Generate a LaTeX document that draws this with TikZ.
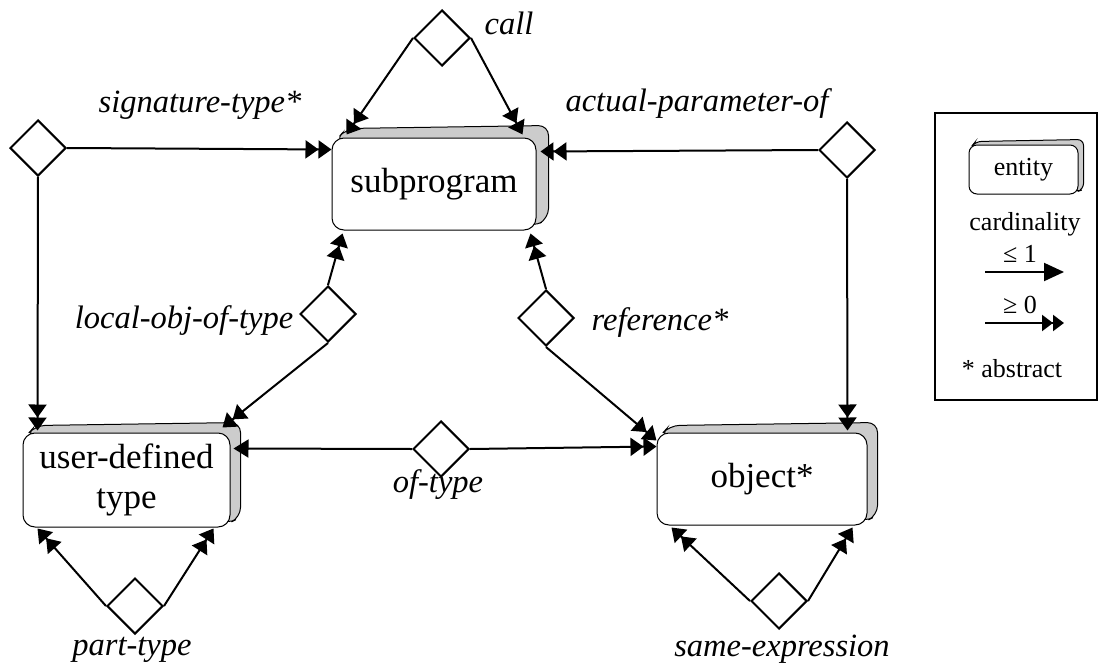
\documentclass[tikz,border=0pt]{standalone}
\usepackage{fontspec}
\setmainfont{Liberation Serif}
\usetikzlibrary{arrows.meta,shapes.geometric,backgrounds}
\newcommand\lblfont{\fontsize{32.5}{38}\selectfont\itshape}
\newcommand\entfont{\fontsize{35}{40}\selectfont}
\newcommand\legfont{\fontsize{26}{30}\selectfont}
\tikzset{
  ent/.style={draw, line width=1pt, rounded corners=12pt, fill=white, inner sep=0pt, align=center, font=\entfont},
  slab/.style={draw, line width=1pt, fill=black!20, rounded corners=10pt},
  rel/.style={draw, diamond, aspect=1, line width=2pt, minimum width=56pt, minimum height=56pt, inner sep=0pt, fill=white},
  lbl/.style={font=\lblfont, anchor=base, inner sep=0pt},
  leg/.style={font=\legfont, anchor=base, inner sep=0pt},
  conn/.style={line width=2pt},
  one/.style={conn, -{Triangle[length=15pt,width=18pt]}},
  many/.style={conn, -{Triangle[length=13pt,width=18pt]Triangle[length=13pt,width=18pt]}},
}
\begin{document}
\begin{tikzpicture}[x=1pt,y=-1pt]
\useasboundingbox (0,0) rectangle (1102,666);
% entities
\node[ent, minimum width=204pt, minimum height=92pt] (sub) at (434,184) {subprogram};
\node[ent, minimum width=207pt, minimum height=94pt] (udt) at (126.5,480) {user-defined\\type};
\node[ent, minimum width=210pt, minimum height=92pt] (obj) at (762,479) {object*};
% shadows
\begin{pgfonlayer}{background}
\foreach \n/\d in {sub/12, udt/10, obj/10} {
  \path[slab] ([shift={(3.5,3.5)}]\n.north west) -- ([shift={(\d+3,-\d+3)}]\n.north west)
     -- ([shift={(\d,-\d)}]\n.north east)
     -- ([shift={(\d,-\d)}]\n.south east) -- ([shift={(-3.5,-3.5)}]\n.south east) -- cycle;
}
\end{pgfonlayer}
% relationships
\node[rel] (call) at (442,38) {};
\node[rel] (sig) at (38,148) {};
\node[rel] (act) at (847,150) {};
\node[rel] (loc) at (328,314) {};
\node[rel] (ref) at (546,318) {};
\node[rel] (oft) at (441,449) {};
\node[rel] (part) at (135,606) {};
\node[rel] (same) at (779,601) {};
% labels
\node[lbl] (lcall) at (509,35) {call};
\node[lbl] (lsig) at (200,113) {signature-type*};
\node[lbl] (lact) at (697,112) {actual-parameter-of};
\node[lbl] (lloc) at (184,328) {local-obj-of-type};
\node[lbl] (lref) at (660,330) {reference*};
\node[lbl] (loft) at (438,492) {of-type};
\node[lbl] (lpart) at (132,655) {part-type};
\node[lbl] (lsame) at (782,656) {same-expression};
% connectors
\draw[many] (call.west) -- ([shift={(15,-3)}]sub.north west);
\draw[many] (call.east) -- ([shift={(-14,-3)}]sub.north east);
\draw[many] (sig.east) -- ([shift={(0,12)}]sub.north west);
\draw[many] (sig.south) -- ([shift={(15,-2)}]udt.north west);
\draw[many] (act.west) -- ([shift={(4,14)}]sub.north east);
\draw[many] (act.south) -- ([shift={(-20,-2)}]obj.north east);
\draw[many] (loc.north) -- ([shift={(11,3)}]sub.south west);
\draw[many] (loc.south) -- ([shift={(-8,-5)}]udt.north east);
\draw[many] (ref.north) -- ([shift={(-6,3)}]sub.south east);
\draw[many] (ref.south) -- ([shift={(0,8)}]obj.north west);
\draw[one] (oft.west) -- ([shift={(3,16)}]udt.north east);
\draw[many] (oft.east) -- ([shift={(0,14)}]obj.north west);
\draw[many] (part.west) -- ([shift={(15,1)}]udt.south west);
\draw[many] (part.east) -- ([shift={(-17,1)}]udt.south east);
\draw[many] (same.west) -- ([shift={(15,2)}]obj.south west);
\draw[many] (same.east) -- ([shift={(-15,2)}]obj.south east);
% legend
\node[draw, line width=2pt, minimum width=162pt, minimum height=287pt, inner sep=0pt] (legend) at (1016,256.5) {};
\node[ent, font=\legfont, rounded corners=8pt, minimum width=109pt, minimum height=49pt] (lent) at (1023.5,169.5) {entity};
\begin{pgfonlayer}{background}
\path[slab, rounded corners=6pt] ([shift={(2.5,2.5)}]lent.north west) -- ([shift={(7,-3)}]lent.north west)
     -- ([shift={(5,-5)}]lent.north east)
     -- ([shift={(5,-5)}]lent.south east) -- ([shift={(-2.5,-2.5)}]lent.south east) -- cycle;
\end{pgfonlayer}
\node[leg] (card) at (1025,230) {cardinality};
\node[leg] (le1) at (1020,262) {≤ 1};
\node[leg] (ge0) at (1020,313) {≥ 0};
\node[leg] (abs) at (1012,377) {* abstract};
\coordinate (a1s) at (985,272);
\coordinate (a1e) at (1064,272);
\coordinate (a2s) at (985,323);
\coordinate (a2e) at (1064,323);
\draw[conn, -{Triangle[length=20pt,width=18pt]}] (a1s) -- (a1e);
\draw[conn, -{Triangle[length=11pt,width=16pt]Triangle[length=11pt,width=16pt]}] (a2s) -- (a2e);
\end{tikzpicture}
\end{document}
